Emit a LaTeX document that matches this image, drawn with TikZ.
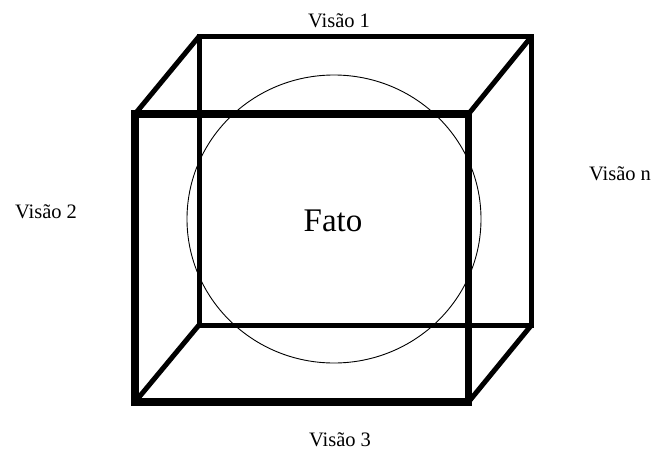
\documentclass[tikz,border=0pt]{standalone}
\usepackage{fontspec}
\setmainfont{Liberation Serif}
\begin{document}
\begin{tikzpicture}[x=1pt,y=-1pt,
  frontedge/.style={line width=7.5pt,line cap=rect,line join=miter},
  backedge/.style={line width=5pt,line cap=rect,line join=miter},
  diag/.style={line width=5pt},
  lbl/.style={anchor=base,inner sep=0pt,font=\fontsize{20.5}{24}\selectfont},
  bigl/.style={anchor=base,inner sep=0pt,font=\fontsize{33}{38}\selectfont}]
\useasboundingbox (0,0) rectangle (656,453);
% back square corners
\coordinate (b1) at (199,36.5);
\coordinate (b2) at (531.5,36.5);
\coordinate (b3) at (531.5,325);
\coordinate (b4) at (199,325);
% front square corners
\coordinate (f1) at (135,114);
\coordinate (f2) at (468.5,114);
\coordinate (f3) at (468.5,402);
\coordinate (f4) at (135,402);
% circle
\draw[line width=0.9pt] (334,219) ellipse [x radius=147, y radius=144];
% back square
\draw[backedge] (b1) -- (b2) -- (b3) -- (b4) -- cycle;
% diagonals
\draw[diag] (f1) -- (b1);
\draw[diag] (f2) -- (b2);
\draw[diag] (f3) -- (b3);
\draw[diag] (f4) -- (b4);
% front square
\draw[frontedge] (f1) -- (f2) -- (f3) -- (f4) -- cycle;
% labels
\node[bigl] (fato) at (333,231) {Fato};
\node[lbl] (v1) at (339,27) {Visão 1};
\node[lbl] (v2) at (46,218) {Visão 2};
\node[lbl] (vn) at (620,180) {Visão n};
\node[lbl] (v3) at (340,446) {Visão 3};
\end{tikzpicture}
\end{document}
